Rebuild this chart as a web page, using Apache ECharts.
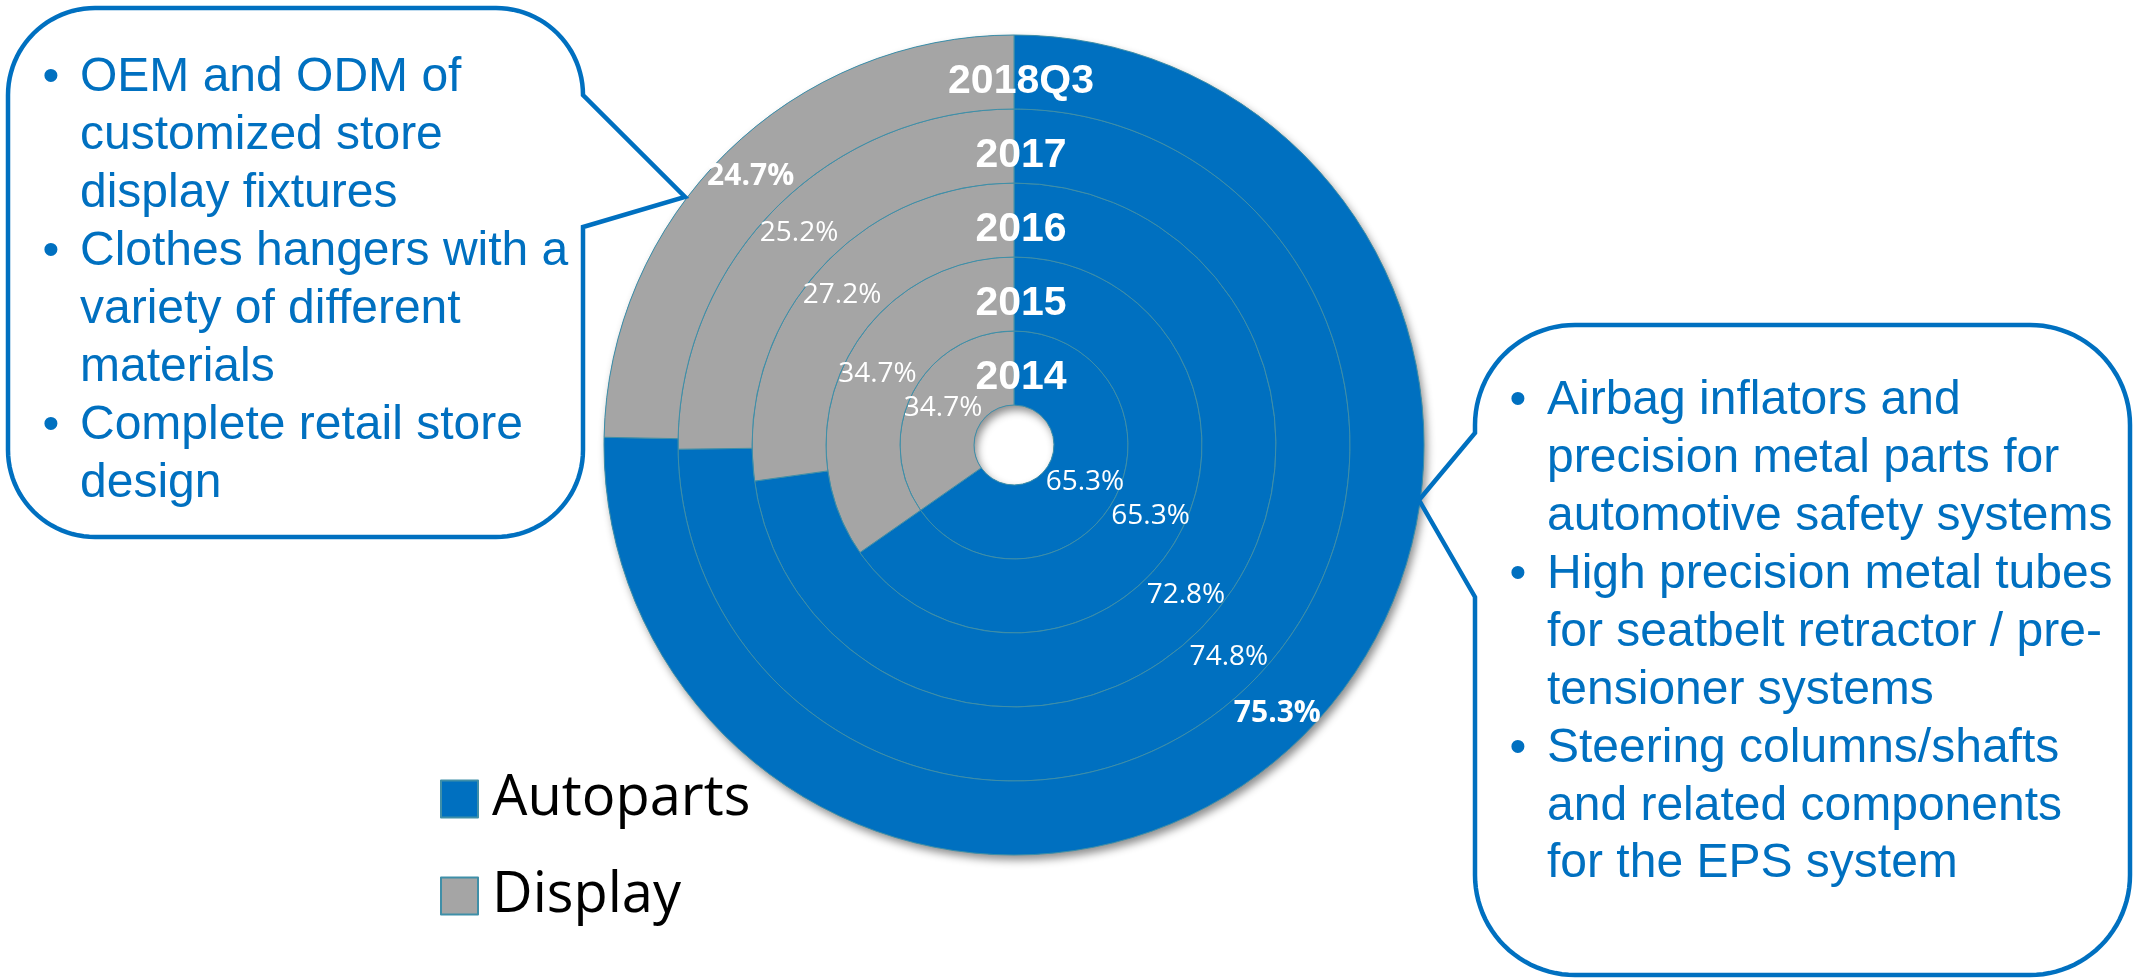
<!DOCTYPE html>
<html>
<head>
<meta charset="utf-8">
<script src="https://cdn.jsdelivr.net/npm/echarts@6/dist/echarts.min.js"></script>
<style>
  html, body { margin: 0; padding: 0; background: #ffffff; }
  #chart { width: 2134px; height: 978px; }
</style>
</head>
<body>
<div id="chart"></div>
<script>
// ---- data ----
const years = ['2014', '2015', '2016', '2017', '2018Q3'];
const segmentNames = ['Autoparts', 'Display'];
const autoparts = [65.3, 65.3, 72.8, 74.8, 75.3];
const display = [34.7, 34.7, 27.2, 25.2, 24.7];

const leftBullets = [
  ['OEM and ODM of', 'customized store', 'display fixtures'],
  ['Clothes hangers with a', 'variety of different', 'materials'],
  ['Complete retail store', 'design']
];
const rightBullets = [
  ['Airbag inflators and', 'precision metal parts for', 'automotive safety systems'],
  ['High precision metal tubes', 'for seatbelt retractor / pre-', 'tensioner systems'],
  ['Steering columns/shafts', 'and related components', 'for the EPS system']
];

// ---- layout / style ----
const BLUE = '#0070C0';
const GRAY = '#A5A5A5';
const EDGE = '#3f8fa8';
const CX = 1014, CY = 445;
const ringEdges = [40, 114, 188, 262, 336, 410];
const ARIAL = '"Liberation Sans", Arial, sans-serif';
const SANS = '"Open Sans", "Noto Sans", sans-serif';

const chart = echarts.init(document.getElementById('chart'));

// background disc only to cast the drop shadow
const series = [{
  type: 'pie', silent: true, animation: false,
  center: [CX, CY], radius: [ringEdges[0], ringEdges[ringEdges.length - 1]],
  label: { show: false }, labelLine: { show: false },
  itemStyle: { color: BLUE, shadowColor: 'rgba(0,0,0,0.45)', shadowBlur: 9, shadowOffsetX: 3, shadowOffsetY: 5 },
  data: [{ value: 1, name: 'bg' }]
}];

years.forEach((y, i) => {
  const outer = i === years.length - 1;
  series.push({
    type: 'pie', name: y, silent: true, animation: false,
    center: [CX, CY], radius: [ringEdges[i], ringEdges[i + 1]],
    startAngle: 90, clockwise: true,
    label: {
      show: true, position: 'inside',
      formatter: p => p.value.toFixed(1) + '%',
      color: '#ffffff', fontFamily: SANS,
      fontSize: outer ? 30 : 28, fontWeight: outer ? 'bold' : 'normal'
    },
    labelLine: { show: false },
    itemStyle: { borderColor: EDGE, borderWidth: 1 },
    data: [
      { name: segmentNames[0], value: autoparts[i], itemStyle: { color: BLUE } },
      { name: segmentNames[1], value: display[i], itemStyle: { color: GRAY } }
    ]
  });
});

// ---- callout outlines (rounded boxes with a pointer) ----
function arcPts(cx, cy, r, a0, a1) {
  const pts = [];
  const n = 24;
  for (let k = 0; k <= n; k++) {
    const a = (a0 + (a1 - a0) * k / n) * Math.PI / 180;
    pts.push([cx + r * Math.cos(a), cy + r * Math.sin(a)]);
  }
  return pts;
}
// left box: x 8..583, y 8..537, r 87, pointer on the right side
function leftBox() {
  const x0 = 8, y0 = 8, x1 = 583, y1 = 537, r = 87;
  let p = [];
  p = p.concat(arcPts(x1 - r, y0 + r, r, -90, 0));
  p.push([685, 197], [x1, 227]);
  p = p.concat(arcPts(x1 - r, y1 - r, r, 0, 90));
  p = p.concat(arcPts(x0 + r, y1 - r, r, 90, 180));
  p = p.concat(arcPts(x0 + r, y0 + r, r, 180, 270));
  return p;
}
// right box: x 1475..2130, y 325..975, r 100, pointer on the left side
function rightBox() {
  const x0 = 1475, y0 = 325, x1 = 2130, y1 = 975, r = 100;
  let p = [];
  p = p.concat(arcPts(x1 - r, y0 + r, r, -90, 0));
  p = p.concat(arcPts(x1 - r, y1 - r, r, 0, 90));
  p = p.concat(arcPts(x0 + r, y1 - r, r, 90, 180));
  p.push([x0, 597], [1419, 500], [x0, 433]);
  p = p.concat(arcPts(x0 + r, y0 + r, r, 180, 270));
  return p;
}

const graphics = [];
[leftBox(), rightBox()].forEach(pts => graphics.push({
  type: 'polygon', z: 50, silent: true,
  shape: { points: pts },
  style: { fill: 'transparent', stroke: BLUE, lineWidth: 4.5, lineJoin: 'miter' }
}));

function addBullets(list, bulletX, textX, firstY, lineH) {
  let line = 0;
  list.forEach(b => {
    graphics.push({
      type: 'text', z: 60, silent: true, x: bulletX, y: firstY + line * lineH,
      style: { text: '\u2022', fill: BLUE, fontFamily: ARIAL, fontSize: 48, align: 'center', verticalAlign: 'middle' }
    });
    b.forEach(t => {
      graphics.push({
        type: 'text', z: 60, silent: true, x: textX, y: firstY + line * lineH,
        style: { text: t, fill: BLUE, fontFamily: ARIAL, fontSize: 48, align: 'left', verticalAlign: 'middle' }
      });
      line++;
    });
  });
}
addBullets(leftBullets, 51, 80, 78, 57.9);
addBullets(rightBullets, 1518, 1547, 401, 57.9);

years.forEach((y, i) => {
  const mid = (ringEdges[i] + ringEdges[i + 1]) / 2;
  graphics.push({
    type: 'text', z: 100, silent: true, x: CX + 7, y: CY - mid + 10,
    style: { text: y, fill: '#ffffff', fontFamily: ARIAL, fontSize: 41, fontWeight: 'bold', align: 'center', verticalAlign: 'middle' }
  });
});

chart.setOption({
  animation: false,
  backgroundColor: '#ffffff',
  legend: {
    data: segmentNames,
    orient: 'vertical', left: 435, top: 766,
    itemWidth: 37, itemHeight: 37, itemGap: 41,
    icon: 'rect', selectedMode: false,
    textStyle: { fontFamily: SANS, fontSize: 56, lineHeight: 56, color: '#000000', padding: [0, 0, 0, 9] }
  },
  graphic: { elements: graphics },
  series: series
});
</script>
</body>
</html>
